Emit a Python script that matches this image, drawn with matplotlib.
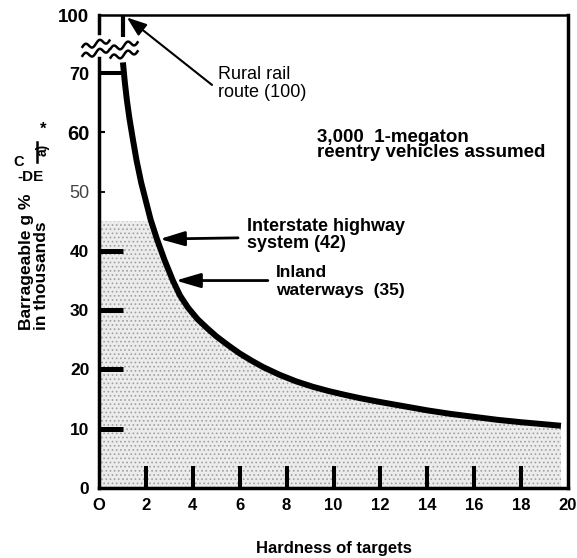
import numpy as np
import matplotlib
matplotlib.use("Agg")
import matplotlib.pyplot as plt
import matplotlib.transforms as mtransforms
from matplotlib.lines import Line2D

plt.rcParams['font.family'] = ['Liberation Sans', 'DejaVu Sans']
plt.rcParams['hatch.linewidth'] = 0.7

# Barrageable area (thousands) as a function of target hardness
hardness = [1.02, 1.1, 1.19, 1.3, 1.45, 1.6, 1.8, 2.0, 2.2, 2.47, 2.8, 3.15,
            3.45, 3.8, 4.2, 4.6, 5.0, 5.5, 6.0, 6.5, 7.0, 7.7, 8.4, 9.1, 9.8,
            10.5, 11.2, 12.0, 13.0, 14.0, 15.0, 16.0, 17.0, 18.0, 19.0, 19.7]
area = [71.8, 68.5, 65.4, 62.3, 58.7, 55.3, 51.5, 48.4, 45.3, 42.0, 38.4, 35.0,
        32.5, 30.4, 28.5, 27.0, 25.6, 24.1, 22.7, 21.5, 20.4, 19.1, 18.0, 17.1, 16.35,
        15.7, 15.1, 14.5, 13.8, 13.1, 12.5, 12.0, 11.5, 11.1, 10.75, 10.5]
shade_cap = 45

rail_value = 100
highway_value = 42
waterway_value = 35

x_ticks = [0, 2, 4, 6, 8, 10, 12, 14, 16, 18, 20]
x_tick_labels = ["O", "2", "4", "6", "8", "10", "12", "14", "16", "18", "20"]
y_ticks = [0, 10, 20, 30, 40, 50, 60, 70, 100]
y_tick_labels = ["0", "10", "20", "30", "40", "50", "60", "70", "100"]

# broken y axis: linear up to BREAK, compressed above it
BREAK = 72.0
SQUEEZE = 7.8 / 28.0


def fwd(v):
    v = np.asarray(v, dtype=float)
    return np.where(v <= BREAK, v, BREAK + (v - BREAK) * SQUEEZE)


def inv(d):
    d = np.asarray(d, dtype=float)
    return np.where(d <= BREAK, d, BREAK + (d - BREAK) / SQUEEZE)


W, H = 577, 558
fig = plt.figure(figsize=(W / 100, H / 100), dpi=100)
ax = fig.add_axes([99 / W, 70 / H, 469 / W, 473 / H])
ax.set_yscale('function', functions=(fwd, inv))
ax.set_xlim(0, 19.95)
ax.set_ylim(0, 100)

# stippled area under the curve
sx = np.concatenate([[0.0], hardness])
sy = np.minimum(np.concatenate([[shade_cap], area]), shade_cap)
ax.fill_between(sx, 0, sy, facecolor='#ececec', hatch='....',
                edgecolor='#a0a0a0', linewidth=0, zorder=1)

# main curve and the part above the axis break
ax.plot(hardness, area, color='k', lw=4.3, solid_capstyle='butt',
        solid_joinstyle='round', zorder=4)
ax.plot([hardness[0]] * 2, [float(inv(76.1)), rail_value], color='k', lw=3,
        clip_on=False, solid_capstyle='butt', zorder=4)

# spines
for side in ('left', 'bottom', 'right'):
    ax.spines[side].set_linewidth(2.5)
ax.spines['top'].set_linewidth(1.8)
ax.spines['left'].set_bounds(0, float(inv(72.55)))
ax.plot([0, 0], [float(inv(76.8)), 100], color='k', lw=2.5, clip_on=False,
        solid_capstyle='projecting', zorder=5)


def squiggle(x, y, width_px=27, lw=1.8):
    trans = fig.dpi_scale_trans + mtransforms.ScaledTranslation(x, y, ax.transData)
    t = np.linspace(-width_px / 2, width_px / 2, 80)
    for off in (-4.5, 4.5):
        yy = 2.8 * np.sin(2 * np.pi * t / 14.0) + 0.28 * t + off
        ax.add_line(Line2D(t / 100, yy / 100, transform=trans, color='k', lw=lw,
                           clip_on=False, zorder=6))


squiggle(-0.13, float(inv(74.2)))
squiggle(1.07, float(inv(73.9)))

# x ticks
ax.set_xticks(x_ticks, x_tick_labels)
ax.tick_params(axis='x', direction='in', length=16, width=2.9, pad=7,
               labelsize=12, top=False)
for tk, v in zip(ax.xaxis.get_major_ticks(), x_ticks):
    tk.label1.set_fontweight('bold')
    if v in (0, 20):
        tk.tick1line.set_visible(False)

# y ticks, each with its own look
ax.set_yticks(y_ticks, y_tick_labels)
ax.tick_params(axis='y', direction='in', pad=7, right=False)
y_styles = {
    0: (0, 0, 12.5, 'bold', 'k'),
    10: (17, 3.6, 12.5, 'bold', 'k'),
    20: (17, 3.6, 12.5, 'bold', 'k'),
    30: (17, 3.6, 12.5, 'bold', 'k'),
    40: (17, 3.6, 12.5, 'bold', 'k'),
    50: (4.5, 1.3, 13, 'normal', '#444444'),
    60: (4.5, 1.5, 14.5, 'bold', 'k'),
    70: (16, 2.9, 13, 'bold', 'k'),
    100: (0, 0, 13.5, 'bold', 'k'),
}
for tk, v in zip(ax.yaxis.get_major_ticks(), y_ticks):
    length, width, fs, fw, col = y_styles[v]
    if length == 0:
        tk.tick1line.set_visible(False)
    else:
        tk.tick1line.set_markersize(length)
        tk.tick1line.set_markeredgewidth(width)
    tk.label1.set_fontsize(fs)
    tk.label1.set_fontweight(fw)
    tk.label1.set_color(col)

ax.set_xlabel("Hardness of targets", fontsize=12, fontweight='bold')
ax.xaxis.set_label_coords(0.5, -0.113)

# annotations
arrow_kw = dict(arrowstyle='-|>,head_length=0.75,head_width=0.22',
                mutation_scale=20, lw=2, color='k', shrinkA=0, shrinkB=0)
rx = np.array(hardness)[::-1]
ry = np.array(area)[::-1]
x_highway = float(np.interp(highway_value, ry, rx))
x_waterway = float(np.interp(waterway_value, ry, rx))

ax.annotate('', xy=(hardness[0] + 0.17, rail_value - 1.5), xytext=(4.82, 68.0),
            arrowprops=dict(arrow_kw, lw=1.5,
                            arrowstyle='-|>,head_length=0.6,head_width=0.22'),
            annotation_clip=False, zorder=7)
ax.text(5.07, 71.2, "Rural rail\nroute (100)", va='top', ha='left',
        fontsize=13, linespacing=1.1)

ax.annotate('', xy=(x_highway + 0.12, highway_value), xytext=(5.93, highway_value + 0.2),
            arrowprops=arrow_kw, zorder=7)
ax.text(6.31, 45.6, "Interstate highway\nsystem (42)", va='top', ha='left',
        fontsize=13, fontweight='bold', linespacing=1.05)

ax.annotate('', xy=(x_waterway + 0.12, waterway_value), xytext=(7.2, waterway_value),
            arrowprops=arrow_kw, zorder=7)
ax.text(7.55, 37.6, "Inland\nwaterways  (35)", va='top', ha='left',
        fontsize=12.5, fontweight='bold', linespacing=1.25)

ax.text(9.3, 60.6, "3,000  1-megaton\nreentry vehicles assumed", va='top',
        ha='left', fontsize=13.5, fontweight='bold', linespacing=0.85)

# y axis title and its marks
fig.text(34 / W, 1 - 330 / H, "Barrageable g %\nin thousands", rotation=90,
         ha='center', va='bottom', multialignment='left', fontsize=12.5,
         fontweight='bold', linespacing=1.0)
fig.text(19 / W, 1 - 162 / H, "C", ha='center', va='center', fontsize=10.5,
         fontweight='bold')
fig.text(31 / W, 1 - 177 / H, "-DE", ha='center', va='center', fontsize=11,
         fontweight='bold')
fig.text(43 / W, 1 - 150 / H, "a)", rotation=90, ha='center', va='center',
         fontsize=10, fontweight='bold')
fig.add_artist(Line2D([37 / W, 37 / W], [1 - 142 / H, 1 - 162 / H], lw=1.8,
                      color='k'))
fig.text(43 / W, 1 - 129 / H, "*", ha='center', va='center', fontsize=12,
         fontweight='bold')

fig.savefig("out.png", dpi=100)
